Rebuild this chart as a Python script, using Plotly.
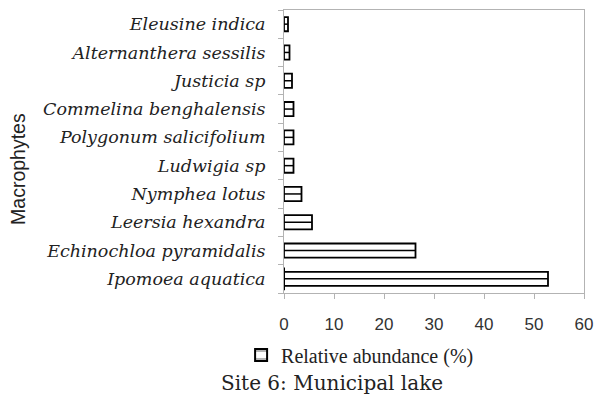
import plotly.graph_objects as go

# macrophyte species (top to bottom) and relative abundance (%)
species = ['Eleusine indica', 'Alternanthera sessilis', 'Justicia sp',
           'Commelina benghalensis', 'Polygonum salicifolium', 'Ludwigia sp',
           'Nymphea lotus', 'Leersia hexandra', 'Echinochloa pyramidalis',
           'Ipomoea aquatica']
abundance = [0.8, 1.1, 1.6, 1.9, 1.9, 1.9, 3.5, 5.6, 26.3, 52.8]
x_ticks = [0, 10, 20, 30, 40, 50, 60]

labels = ['<i>' + s + '</i>' for s in species]

fig = go.Figure()
fig.add_trace(go.Bar(
    x=abundance, y=labels, orientation='h', showlegend=False,
    width=0.5,
    marker=dict(color='white', line=dict(color='black', width=1.8)),
))

# middle stroke of each bar
for s, v in zip(labels, abundance):
    fig.add_trace(go.Scatter(x=[0, v], y=[s, s], mode='lines', showlegend=False,
                             line=dict(color='black', width=1.5), hoverinfo='skip'))

# legend entry (zero-length bar, only its patterned key shows)
fig.add_trace(go.Bar(
    x=[0], y=[labels[-1]], orientation='h', name='Relative abundance (%)',
    marker=dict(color='white', line=dict(color='black', width=2),
                pattern=dict(shape='-', fgcolor='black', bgcolor='white', size=12, solidity=0.15)),
))

fig.update_layout(
    width=596, height=401,
    margin=dict(l=284, r=12, t=10, b=108),
    plot_bgcolor='white', paper_bgcolor='white',
    barmode='overlay',
    showlegend=True,
    legend=dict(orientation='h', x=-0.143, xanchor='left', y=-0.219, yanchor='middle',
                font=dict(family='Liberation Serif', size=20, color='#222')),
    xaxis=dict(range=[0, 60], tickvals=x_ticks, showgrid=False,
               showline=True, linecolor='#b3b3b3', linewidth=1, mirror=True,
               ticks='outside', ticklen=5, tickcolor='#b3b3b3', ticklabelstandoff=11,
               ticklabeloverflow='allow',
               tickfont=dict(family='Liberation Sans', size=17, color='#333'),
               zeroline=False, automargin=False),
    yaxis=dict(categoryorder='array', categoryarray=labels[::-1], automargin=False,
               showgrid=False, showline=True, linecolor='#b3b3b3', linewidth=1, mirror=True,
               ticks='outside', ticklen=5, tickcolor='#b3b3b3', tickson='boundaries',
               ticklabelstandoff=14,
               tickfont=dict(family='DejaVu Serif', size=17.5, color='#222')),
    annotations=[
        dict(text='Macrophytes', textangle=-90, xref='paper', yref='paper',
             x=-0.887, y=0.438, xanchor='center', yanchor='middle', showarrow=False,
             font=dict(family='Liberation Sans', size=19.5, color='#222')),
        dict(text='Site 6: Municipal lake', xref='paper', yref='paper',
             x=0.16, y=-0.318, xanchor='center', yanchor='middle', showarrow=False,
             font=dict(family='DejaVu Serif', size=20, color='#222')),
    ],
)

# the page body has a default 8px margin; drop it so the figure fills the window
fig.write_html('out.html', config={'displayModeBar': False},
               post_script="document.body.style.margin='0';")
